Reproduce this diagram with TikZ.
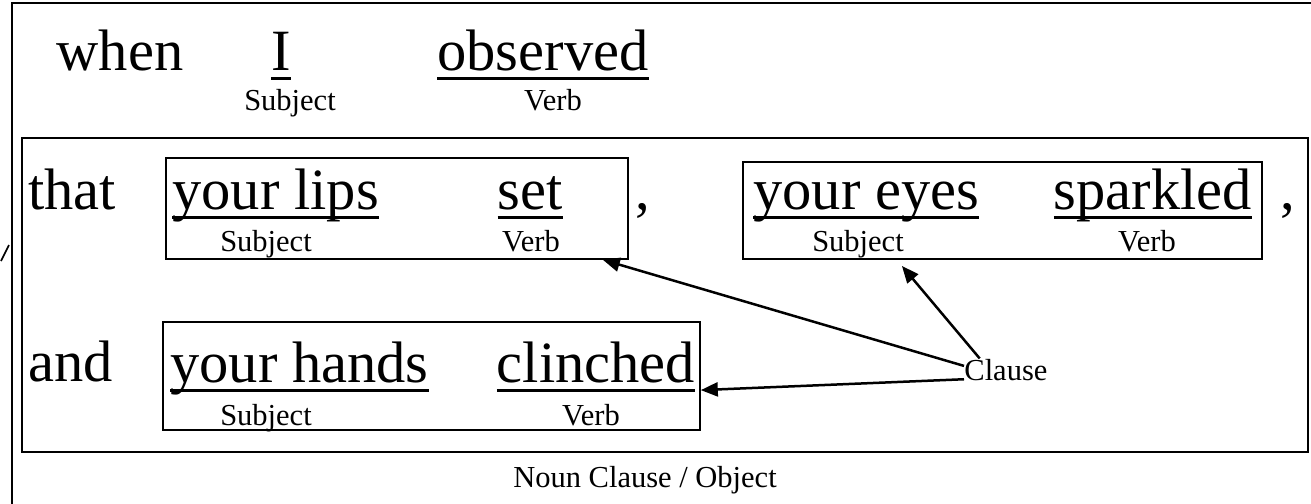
\documentclass[tikz,border=0pt]{standalone}
\usepackage{fontspec}
\setmainfont{Liberation Serif}
\usetikzlibrary{arrows.meta}

\newcommand\undl[1]{\setbox0=\hbox{#1}\rlap{\rule[-4.9pt]{\wd0}{1.25pt}}\box0}

\tikzset{
  big/.style={font=\fontsize{29.25}{31}\selectfont, inner sep=0pt, anchor=base},
  tag/.style={font=\fontsize{15.25}{17}\selectfont, inner sep=0pt, anchor=base},
  clausebox/.style={draw, line width=0.8pt, inner sep=0pt},
  arr/.style={-{Triangle[length=8.5pt,width=7pt]}, line width=1.25pt}
}

\begin{document}
\begin{tikzpicture}[x=0.5pt, y=-0.5pt]
  \clip (0,0) rectangle (1311,503);
  \draw[line width=1pt] (12,3) rectangle (1340,530);
  \draw[line width=1pt] (22,138) rectangle (1308,452);
  \draw[line width=0.8pt] (1,261) -- (9,245);

  \node[big] (when) at (120,70) {when};
  \node[big] (i) at (281,70) {\undl{I}};
  \node[tag] (subj0) at (290,110) {Subject};
  \node[big] (observed) at (543,70) {\undl{observed}};
  \node[tag] (verb0) at (553,110) {Verb};

  \node[clausebox, minimum width=231pt, minimum height=50.5pt] (lips) at (397,208.5) {};
  \node[clausebox, minimum width=259.5pt, minimum height=48.5pt] (eyes) at (1002.5,210.5) {};
  \node[clausebox, minimum width=268.5pt, minimum height=54pt] (hands) at (431.5,376) {};

  \node[big, anchor=base west] (that) at (28,209) {that};
  \node[big, anchor=base west] (yourlips) at (172,209) {\undl{your lips}};
  \node[tag] (subj1) at (266,251) {Subject};
  \node[big] (set) at (530,209) {\undl{set}};
  \node[tag] (verb1) at (531,251) {Verb};
  \node[big] (comma1) at (643,209) {,};

  \node[big, anchor=base west] (youreyes) at (753,209) {\undl{your eyes}};
  \node[tag] (subj2) at (858,251) {Subject};
  \node[big] (sparkled) at (1153,209) {\undl{sparkled}};
  \node[tag] (verb2) at (1147,251) {Verb};
  \node[big] (comma2) at (1288,209) {,};

  \node[big, anchor=base west] (and) at (28,381) {and};
  \node[big, anchor=base west] (yourhands) at (170,382) {\undl{your hands}};
  \node[tag] (subj3) at (266,425) {Subject};
  \node[big] (clinched) at (596,382) {\undl{clinched}};
  \node[tag] (verb3) at (591,425) {Verb};

  \node[tag, anchor=base west] (clause) at (964,380) {Clause};
  \node[tag] (object) at (645,487) {Noun Clause / Object};

  \draw[arr] (clause.175) -- (lips.-14);
  \draw[arr, shorten >=4pt] (clause.157) -- (eyes.-155);
  \draw[arr] (clause.-167) -- (hands.-3);
\end{tikzpicture}
\end{document}
